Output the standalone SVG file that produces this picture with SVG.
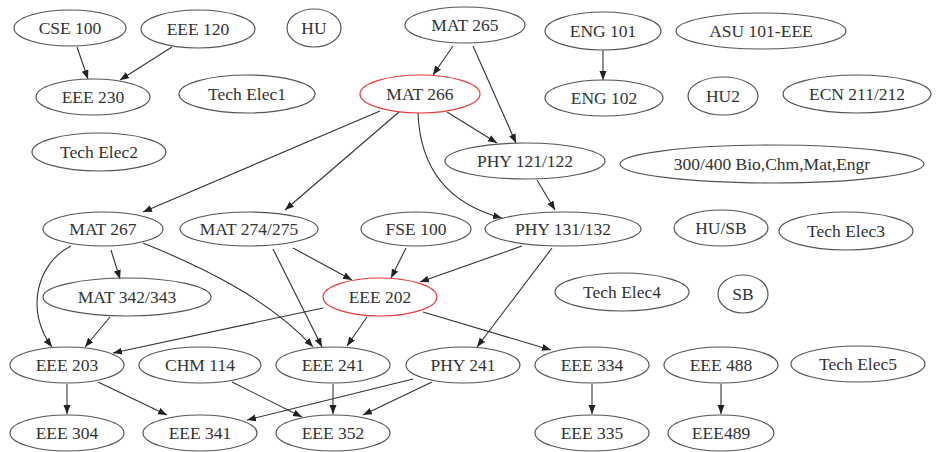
<svg xmlns="http://www.w3.org/2000/svg" width="936" height="452" viewBox="0 0 936 452" font-family="'Liberation Serif', 'DejaVu Serif', 'Times New Roman', Times, serif">
<style>
.n ellipse{fill:none;stroke:#555;stroke-width:1.2}
.n.red ellipse{stroke:#e8393a}
.n text{font-family:'Liberation Serif','DejaVu Serif','Times New Roman',Times,serif;font-size:17.5px;fill:#333;text-anchor:middle}
.e path{fill:none;stroke:#333;stroke-width:1.1;marker-end:url(#ah)}
</style>
<defs>
<marker id="ah" markerUnits="userSpaceOnUse" markerWidth="10" markerHeight="8" refX="9" refY="3.5" orient="auto">
<path d="M0,0 L9,3.5 L0,7 z" fill="#222"/>
</marker>
</defs>
<rect width="936" height="452" fill="#fff"/>
<g id="edges" class="e">
<path d="M77,47 L88,79"/>
<path d="M172,47 L120,80"/>
<path d="M453,46 L433,75"/>
<path d="M473,46 L516,143"/>
<path d="M447,112 L497,143"/>
<path d="M418,113 C420,165 445,203 502,218"/>
<path d="M537,180 L555,210"/>
<path d="M380,111 L143,212"/>
<path d="M399,112 L285,210"/>
<path d="M603,50 L603,80"/>
<path d="M71,246 C38,262 24,310 52,347"/>
<path d="M111,250 L120,279"/>
<path d="M143,243 C205,268 270,300 313,347"/>
<path d="M110,317 L85,347"/>
<path d="M323,308 L113,353"/>
<path d="M273,249 L322,347"/>
<path d="M293,248 L352,280"/>
<path d="M406,248 L391,278"/>
<path d="M522,246 L420,282"/>
<path d="M552,248 L477,347"/>
<path d="M367,317 L347,346"/>
<path d="M423,312 L551,350"/>
<path d="M67,384 L67,414"/>
<path d="M98,382 L167,415"/>
<path d="M232,382 L302,417"/>
<path d="M333,384 L333,414"/>
<path d="M413,379 L247,420"/>
<path d="M432,382 L363,415"/>
<path d="M592,384 L592,414"/>
<path d="M721,384 L721,414"/>
</g>
<g id="CSE100" class="n"><ellipse cx="70" cy="28" rx="56" ry="18"/><text x="70" y="34">CSE 100</text></g>
<g id="EEE120" class="n"><ellipse cx="198" cy="29" rx="57" ry="19"/><text x="198" y="35">EEE 120</text></g>
<g id="HU" class="n"><ellipse cx="314" cy="28" rx="27" ry="19"/><text x="314" y="34">HU</text></g>
<g id="MAT265" class="n"><ellipse cx="465" cy="25" rx="60" ry="18"/><text x="465" y="31">MAT 265</text></g>
<g id="ENG101" class="n"><ellipse cx="603" cy="31" rx="58" ry="19"/><text x="603" y="37">ENG 101</text></g>
<g id="ASU101" class="n"><ellipse cx="761" cy="31" rx="85" ry="18"/><text x="761" y="37">ASU 101-EEE</text></g>
<g id="EEE230" class="n"><ellipse cx="93" cy="97" rx="57" ry="18"/><text x="93" y="103">EEE 230</text></g>
<g id="TechElec1" class="n"><ellipse cx="247" cy="94" rx="68" ry="19"/><text x="247" y="100">Tech Elec1</text></g>
<g id="MAT266" class="n red"><ellipse cx="420" cy="94" rx="60" ry="19"/><text x="420" y="100">MAT 266</text></g>
<g id="ENG102" class="n"><ellipse cx="604" cy="98" rx="59" ry="18"/><text x="604" y="104">ENG 102</text></g>
<g id="HU2" class="n"><ellipse cx="723" cy="96" rx="35" ry="19"/><text x="723" y="102">HU2</text></g>
<g id="ECN211" class="n"><ellipse cx="857" cy="94" rx="74" ry="19"/><text x="857" y="100">ECN 211/212</text></g>
<g id="TechElec2" class="n"><ellipse cx="99" cy="152" rx="67" ry="19"/><text x="99" y="158">Tech Elec2</text></g>
<g id="PHY121" class="n"><ellipse cx="525" cy="161" rx="80" ry="18"/><text x="525" y="167">PHY 121/122</text></g>
<g id="Bio300" class="n"><ellipse cx="772" cy="164" rx="152" ry="19"/><text x="772" y="170">300/400 Bio,Chm,Mat,Engr</text></g>
<g id="MAT267" class="n"><ellipse cx="103" cy="229" rx="60" ry="17"/><text x="103" y="235">MAT 267</text></g>
<g id="MAT274" class="n"><ellipse cx="249" cy="229" rx="69" ry="17"/><text x="249" y="235">MAT 274/275</text></g>
<g id="FSE100" class="n"><ellipse cx="416" cy="229" rx="55" ry="17"/><text x="416" y="235">FSE 100</text></g>
<g id="PHY131" class="n"><ellipse cx="563" cy="229" rx="78" ry="17"/><text x="563" y="235">PHY 131/132</text></g>
<g id="HUSB" class="n"><ellipse cx="721" cy="228" rx="47" ry="18"/><text x="721" y="234">HU/SB</text></g>
<g id="TechElec3" class="n"><ellipse cx="846" cy="231" rx="67" ry="19"/><text x="846" y="237">Tech Elec3</text></g>
<g id="MAT342" class="n"><ellipse cx="127" cy="297" rx="84" ry="19"/><text x="127" y="303">MAT 342/343</text></g>
<g id="EEE202" class="n red"><ellipse cx="380" cy="297" rx="57" ry="19"/><text x="380" y="303">EEE 202</text></g>
<g id="TechElec4" class="n"><ellipse cx="622" cy="292" rx="67" ry="19"/><text x="622" y="298">Tech Elec4</text></g>
<g id="SB" class="n"><ellipse cx="743" cy="294" rx="25" ry="19"/><text x="743" y="300">SB</text></g>
<g id="EEE203" class="n"><ellipse cx="67" cy="365" rx="57" ry="18"/><text x="67" y="371">EEE 203</text></g>
<g id="CHM114" class="n"><ellipse cx="200" cy="365" rx="61" ry="18"/><text x="200" y="371">CHM 114</text></g>
<g id="EEE241" class="n"><ellipse cx="333" cy="365" rx="57" ry="18"/><text x="333" y="371">EEE 241</text></g>
<g id="PHY241" class="n"><ellipse cx="463" cy="365" rx="57" ry="18"/><text x="463" y="371">PHY 241</text></g>
<g id="EEE334" class="n"><ellipse cx="592" cy="365" rx="57" ry="18"/><text x="592" y="371">EEE 334</text></g>
<g id="EEE488" class="n"><ellipse cx="721" cy="365" rx="57" ry="18"/><text x="721" y="371">EEE 488</text></g>
<g id="TechElec5" class="n"><ellipse cx="858" cy="364" rx="67" ry="18"/><text x="858" y="370">Tech Elec5</text></g>
<g id="EEE304" class="n"><ellipse cx="67" cy="433" rx="57" ry="18"/><text x="67" y="439">EEE 304</text></g>
<g id="EEE341" class="n"><ellipse cx="200" cy="433" rx="57" ry="18"/><text x="200" y="439">EEE 341</text></g>
<g id="EEE352" class="n"><ellipse cx="333" cy="433" rx="57" ry="18"/><text x="333" y="439">EEE 352</text></g>
<g id="EEE335" class="n"><ellipse cx="592" cy="433" rx="57" ry="18"/><text x="592" y="439">EEE 335</text></g>
<g id="EEE489" class="n"><ellipse cx="721" cy="433" rx="53" ry="18"/><text x="721" y="439">EEE489</text></g>
</svg>
